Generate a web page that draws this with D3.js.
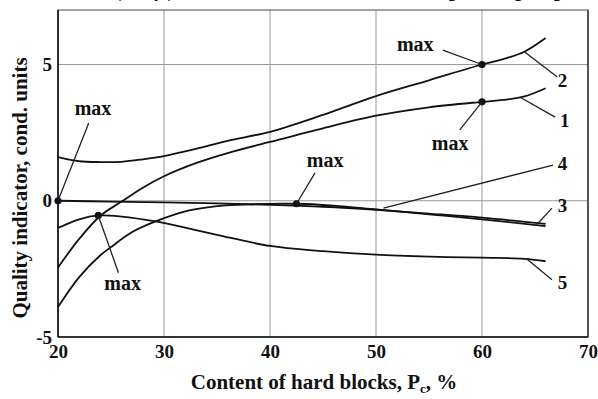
<!DOCTYPE html>
<html>
<head>
<meta charset="utf-8">
<title>Quality indicator vs content of hard blocks</title>
<script src="https://d3js.org/d3.v7.min.js"></script>
<style>
  body { margin: 0; background: #fff; }
  svg text { font-family: "Liberation Serif", "Times New Roman", serif; font-weight: bold; fill: #111; }
  .grid line { stroke: #999; stroke-width: 1; }
  .curve { fill: none; stroke: #111; stroke-width: 1.8; }
  .leader { stroke: #222; stroke-width: 1.3; }
</style>
</head>
<body>
<svg id="chart" width="598" height="399"></svg>
<script>
// x = content of hard blocks, %
var xTicks = [20, 30, 40, 50, 60, 70];
var yTicks = [-5, 0, 5];

// curves: [x, y]
var curve1 = [[20, -2.45], [22, -1.4], [24, -0.55], [26, -0.03], [28, 0.48], [30, 0.9], [33, 1.38], [36, 1.75], [40, 2.16], [45, 2.66], [50, 3.12], [55, 3.43], [60, 3.63], [62, 3.7], [64, 3.83], [66, 4.13]];
var curve2 = [[20, 1.6], [22, 1.45], [24, 1.42], [26, 1.43], [28, 1.52], [30, 1.64], [33, 1.9], [36, 2.2], [40, 2.53], [45, 3.15], [50, 3.84], [55, 4.42], [60, 5.0], [62, 5.2], [64, 5.47], [66, 5.97]];
var curve3 = [[20, -3.9], [22, -2.8], [24, -2.0], [25, -1.7], [27, -1.15], [29.2, -0.76], [32, -0.39], [35, -0.2], [38, -0.13], [42.5, -0.11], [46, -0.18], [50, -0.32], [55, -0.5], [60, -0.68], [66, -0.93]];
var curve4 = [[20, 0], [25, -0.03], [30, -0.06], [35, -0.1], [40, -0.15], [45, -0.22], [50, -0.33], [55, -0.47], [60, -0.62], [66, -0.85]];
var curve5 = [[20, -1.0], [22, -0.68], [23.8, -0.54], [26, -0.58], [29.2, -0.76], [32, -0.99], [35, -1.25], [40, -1.66], [45, -1.85], [50, -1.98], [55, -2.05], [60, -2.09], [64, -2.13], [66, -2.22]];

// maxima marked on the curves
var maxPoints = [[20, 0], [23.8, -0.54], [42.5, -0.11], [60, 5.0], [60, 3.63]];
// "max" labels: text position, leader start, leader end (on the curve)
var maxLabels = [
  [[23.3, 3.33], [22.9, 2.85], [20, 0]],
  [[26.1, -3.08], [25.7, -2.64], [23.8, -0.54]],
  [[45.2, 1.42], [44.25, 1.02], [42.5, -0.11]],
  [[53.7, 5.68], [56.3, 5.53], [60, 5.0]],
  [[57.0, 2.05], [57.9, 2.6], [60, 3.63]]
];
// curve numbers: name, text position, leader start (on curve), leader end
var curveLabels = [
  ["1", [67.8, 2.96], [63.6, 3.8], [66.9, 3.07]],
  ["2", [67.6, 4.43], [64, 5.47], [67.1, 4.54]],
  ["3", [67.6, -0.16], [65.2, -0.86], [66.6, -0.27]],
  ["4", [67.6, 1.39], [50.7, -0.27], [66.7, 1.31]],
  ["5", [67.6, -3.0], [64.2, -2.13], [66.6, -2.9]]
];

var svg = d3.select("#chart");
var pLeft = 58, pRight = 588, pTop = 10, pBottom = 337;

var x = d3.scaleLinear().domain([20, 70]).range([pLeft, pRight]);
var y = d3.scaleLinear().domain([-5, 7]).range([pBottom, pTop]);

// cut-off caption above the chart (only the descenders show)
svg.append("text")
  .attr("x", 584).attr("y", -3)
  .attr("text-anchor", "end")
  .style("font-family", "'Open Sans', sans-serif")
  .style("font-weight", "normal")
  .style("font-size", "16px")
  .text("ation in the quality parameters of the blends on the change of range (Fig. 5)");

// grid
var grid = svg.append("g").attr("class", "grid");
grid.selectAll(".vx").data([30, 40, 50, 60]).enter().append("line")
  .attr("x1", function (d) { return x(d); }).attr("x2", function (d) { return x(d); })
  .attr("y1", pTop).attr("y2", pBottom);
grid.selectAll(".hy").data([0, 5]).enter().append("line")
  .attr("x1", pLeft).attr("x2", pRight)
  .attr("y1", function (d) { return y(d); }).attr("y2", function (d) { return y(d); });

// frame
svg.append("rect")
  .attr("x", pLeft).attr("y", pTop)
  .attr("width", pRight - pLeft).attr("height", pBottom - pTop)
  .attr("fill", "none").attr("stroke", "#666").attr("stroke-width", 1.2);
svg.append("line").attr("x1", pLeft).attr("x2", pLeft).attr("y1", pTop).attr("y2", pBottom)
  .attr("stroke", "#111").attr("stroke-width", 1.6);
svg.append("line").attr("x1", pLeft).attr("x2", pRight).attr("y1", pBottom).attr("y2", pBottom)
  .attr("stroke", "#111").attr("stroke-width", 1.6);
svg.append("line").attr("x1", pRight).attr("x2", pRight).attr("y1", pTop).attr("y2", pBottom)
  .attr("stroke", "#333").attr("stroke-width", 1.4);

// axes
var xAxis = d3.axisBottom(x).tickValues(xTicks).tickSize(0).tickPadding(8);
var gx = svg.append("g").attr("transform", "translate(0," + pBottom + ")").call(xAxis);
gx.select(".domain").remove();
gx.selectAll("text").style("font-size", "19px").attr("fill", "#111");

var yAxis = d3.axisLeft(y).tickValues(yTicks).tickSize(0).tickPadding(6)
  .tickFormat(function (d) { return d < 0 ? "-" + Math.abs(d) : d; });
var gy = svg.append("g").attr("transform", "translate(" + pLeft + ",0)").call(yAxis);
gy.select(".domain").remove();
gy.selectAll("text").style("font-size", "19px").attr("fill", "#111");

// axis titles
var xt = svg.append("text")
  .attr("x", 324).attr("y", 389)
  .attr("text-anchor", "middle")
  .style("font-size", "21px");
xt.append("tspan").text("Content of hard blocks, P");
xt.append("tspan").attr("dy", 4).style("font-size", "13px").text("c");
xt.append("tspan").attr("dy", -4).text(", %");

svg.append("text")
  .attr("transform", "translate(27," + 188 + ") rotate(-90)")
  .attr("text-anchor", "middle")
  .style("font-size", "21px")
  .text("Quality indicator, cond. units");

// curves
var line = d3.line()
  .x(function (d) { return x(d[0]); })
  .y(function (d) { return y(d[1]); })
  .curve(d3.curveCatmullRom.alpha(0.5));

svg.selectAll(".curve").data([curve1, curve2, curve3, curve4, curve5]).enter().append("path")
  .attr("class", "curve")
  .attr("d", line);

// max points
svg.selectAll(".maxdot").data(maxPoints).enter().append("circle")
  .attr("cx", function (d) { return x(d[0]); })
  .attr("cy", function (d) { return y(d[1]); })
  .attr("r", 3.6).attr("fill", "#111");

// max labels
svg.selectAll(".maxleader").data(maxLabels).enter().append("line")
  .attr("class", "leader")
  .attr("x1", function (d) { return x(d[1][0]); }).attr("y1", function (d) { return y(d[1][1]); })
  .attr("x2", function (d) { return x(d[2][0]); }).attr("y2", function (d) { return y(d[2][1]); });
svg.selectAll(".maxtext").data(maxLabels).enter().append("text")
  .attr("x", function (d) { return x(d[0][0]); })
  .attr("y", function (d) { return y(d[0][1]); })
  .attr("dy", "0.25em")
  .attr("text-anchor", "middle")
  .style("font-size", "20px")
  .text("max");

// curve numbers
svg.selectAll(".numleader").data(curveLabels).enter().append("line")
  .attr("class", "leader")
  .attr("x1", function (d) { return x(d[2][0]); }).attr("y1", function (d) { return y(d[2][1]); })
  .attr("x2", function (d) { return x(d[3][0]); }).attr("y2", function (d) { return y(d[3][1]); });
svg.selectAll(".numtext").data(curveLabels).enter().append("text")
  .attr("x", function (d) { return x(d[1][0]); })
  .attr("y", function (d) { return y(d[1][1]); })
  .attr("dy", "0.35em")
  .attr("text-anchor", "middle")
  .style("font-size", "19px")
  .text(function (d) { return d[0]; });
</script>
</body>
</html>
